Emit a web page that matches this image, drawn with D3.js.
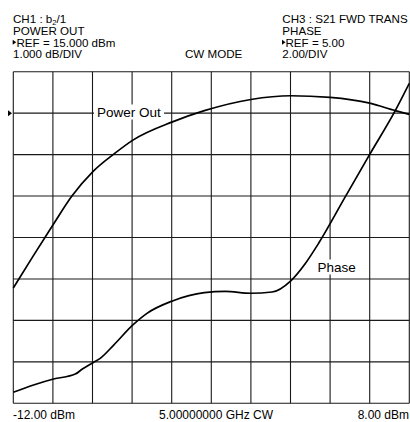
<!DOCTYPE html>
<html><head><meta charset="utf-8">
<script src="https://cdn.jsdelivr.net/npm/d3@7"></script>
<style>
html,body{margin:0;padding:0;background:#fff;}
svg{display:block;font-family:"Liberation Sans",Arial,Helvetica,sans-serif;}
</style></head>
<body><svg id="c" width="410" height="422"></svg>
<script>
// Data
const powerIn   = [-12, -11, -10, -9.04, -7.98, -6.93, -5.96, -3.96, -2.35, 0.0, 2.0, 4.0, 6.0, 7.29, 8.0];
const powerOut  = [10.78, 11.55, 12.3, 13.0, 13.59, 14.01, 14.35, 14.79, 15.06, 15.33, 15.42, 15.38, 15.24, 15.06, 14.97];
const phaseIn   = [-12, -10.98, -9.97, -8.87, -8.53, -7.98, -7.61, -6.93, -5.96, -5.25, -3.96, -2.35, -1.29, 0.0, 1.07, 2.0, 2.75, 3.42, 4.77, 6.0, 7.29, 8.0];
const phaseVal  = [-8.47, -8.12, -7.83, -7.59, -7.36, -7.04, -6.83, -6.19, -5.22, -4.66, -4.06, -3.66, -3.60, -3.69, -3.63, -3.10, -2.25, -1.28, 0.97, 3.01, 5.12, 6.44];
const xDomain = [-12, 8];        // dBm, 2 dBm/div
const powerDomain = [8, 16];     // REF 15 dBm, 1 dB/div
const phaseDomain = [-9, 7];     // REF 5.00, 2.00/div
const headerLeft  = ["POWER OUT", "REF = 15.000 dBm", "1.000 dB/DIV"];
const headerRight = ["CH3 : S21 FWD TRANS", "PHASE", "REF = 5.00", "2.00/DIV"];
const footer = ["-12.00 dBm", "5.00000000 GHz CW", "8.00 dBm"];

const svg = d3.select("#c");
const L = 13.3, R = 409.3, T = 71.7, B = 403.3;
const x = d3.scaleLinear().domain(xDomain).range([L, R]);
const yP = d3.scaleLinear().domain(powerDomain).range([B, T]);
const yPh = d3.scaleLinear().domain(phaseDomain).range([B, T]);

// grid
const g = svg.append("g");
g.selectAll("line.v").data(d3.range(xDomain[0], xDomain[1] + 0.001, 2)).join("line")
  .attr("x1", d => x(d)).attr("x2", d => x(d)).attr("y1", T).attr("y2", B)
  .attr("stroke", "#1a1a1a").attr("stroke-width", 1.1);
g.selectAll("line.h").data(d3.range(powerDomain[0], powerDomain[1] + 0.001, 1)).join("line")
  .attr("x1", L).attr("x2", R).attr("y1", d => yP(d)).attr("y2", d => yP(d))
  .attr("stroke", "#1a1a1a").attr("stroke-width", 1.1);

// curves
const lineP = d3.line().x(d => x(d[0])).y(d => yP(d[1])).curve(d3.curveMonotoneX);
const linePh = d3.line().x(d => x(d[0])).y(d => yPh(d[1])).curve(d3.curveMonotoneX);
svg.append("path").attr("d", lineP(d3.zip(powerIn, powerOut)))
  .attr("fill", "none").attr("stroke", "#000").attr("stroke-width", 1.7);
svg.append("path").attr("d", linePh(d3.zip(phaseIn, phaseVal)))
  .attr("fill", "none").attr("stroke", "#000").attr("stroke-width", 1.7);

// trace labels with white backgrounds
function label(txt, xx, yy) {
  const t = svg.append("text").attr("x", xx).attr("y", yy).attr("font-size", 13.5).attr("fill", "#000").text(txt);
  const bb = t.node().getBBox();
  svg.insert("rect", () => t.node()).attr("x", bb.x - 3).attr("y", bb.y).attr("width", bb.width + 6).attr("height", bb.height)
    .attr("fill", "#fff");
}
label("Power Out", 97, 116.5);
label("Phase", 317.5, 271.5);

// ref marker
const ry = yP(15);
svg.append("path").attr("d", `M8,${ry - 3}L12,${ry}L8,${ry + 3}Z`).attr("fill", "#000");

// header
const fs = 11.6;
const h1 = svg.append("text").attr("x", 13).attr("y", 23.3).attr("font-size", fs);
h1.append("tspan").text("CH1 : b");
h1.append("tspan").attr("font-size", 7.5).attr("dy", 2).text("2");
h1.append("tspan").attr("dy", -2).text("/1");
const lh = 11.7;
headerLeft.forEach((s, i) => {
  const isRef = s.startsWith("REF");
  svg.append("text").attr("x", isRef ? 16.5 : 13).attr("y", 23.3 + lh * (i + 1)).attr("font-size", fs).text(s);
});
headerRight.forEach((s, i) => {
  const isRef = s.startsWith("REF");
  svg.append("text").attr("x", isRef ? 285.5 : 282.3).attr("y", 23.3 + lh * i).attr("font-size", fs).text(s);
});
// small triangles before REF text
[[12.7, 23.3 + lh * 2], [282, 23.3 + lh * 2]].forEach(([tx, ty]) => {
  svg.append("path").attr("d", `M${tx},${ty - 7}L${tx + 3.5},${ty - 4.5}L${tx},${ty - 2}Z`).attr("fill", "#000");
});
svg.append("text").attr("x", 185).attr("y", 23.3 + lh * 3).attr("font-size", fs).text("CW MODE");

// footer
svg.append("text").attr("x", 13).attr("y", 419).attr("font-size", 12).text(footer[0]);
svg.append("text").attr("x", 216).attr("y", 419).attr("font-size", 12).attr("text-anchor", "middle").text(footer[1]);
svg.append("text").attr("x", 409).attr("y", 419).attr("font-size", 12).attr("text-anchor", "end").text(footer[2]);
</script></body></html>
